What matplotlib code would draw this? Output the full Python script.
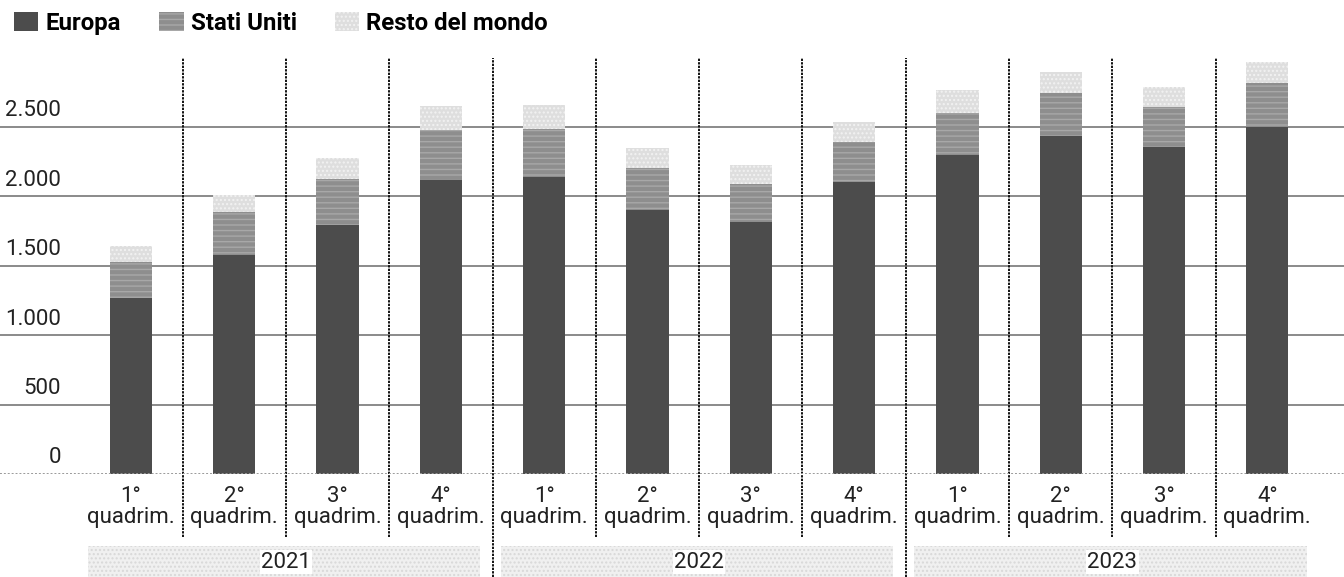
import numpy as np
import matplotlib.pyplot as plt
from matplotlib.patches import Rectangle
import matplotlib.transforms as mtransforms

# dati (quadrimestri 2021-2023)
quadrimestri = ["1°", "2°", "3°", "4°"] * 3
anni = ["2021", "2022", "2023"]
europa = [1265, 1580, 1790, 2120, 2140, 1900, 1815, 2100, 2300, 2430, 2355, 2500]
stati_uniti = [262, 303, 335, 360, 347, 300, 270, 287, 300, 316, 287, 318]
resto_mondo = [113, 124, 151, 167, 168, 149, 139, 144, 161, 149, 145, 151]
yticks = [0, 500, 1000, 1500, 2000, 2500]

plt.rcParams['font.family'] = ['Roboto', 'DejaVu Sans']

fig = plt.figure(figsize=(13.44, 5.77), dpi=100)
ax = fig.add_axes([0, 1 - 474 / 577, 1, (474 - 18) / 577])

x = np.arange(len(europa))
eu = np.array(europa)
us = np.array(stati_uniti)
rm = np.array(resto_mondo)
w = 0.41

b1 = ax.bar(x, eu, w, color='#4c4c4c', zorder=3, label='Europa')
b2 = ax.bar(x, us, w, bottom=eu, color='#8e8e8e', zorder=3, label='Stati Uniti',
            hatch='---', edgecolor='#a8a8a8', linewidth=0)
b3 = ax.bar(x, rm, w, bottom=eu + us, color='#dedede', zorder=3, label='Resto del mondo',
            hatch='....', edgecolor='#f2f2f2', linewidth=0)

ax.set_xlim(-131 / 103.3, (1344 - 131) / 103.3)
ax.set_ylim(0, 456 / 0.1389)

# griglia orizzontale
for v in yticks[1:]:
    ax.axhline(v, color='#8a8a8a', lw=1.4, zorder=1)
ax.axhline(0, color='#9a9a9a', lw=1.4, ls=(0, (1, 1)), zorder=4)

# etichette asse y sopra le linee
for v in yticks:
    lab = f"{v:,}".replace(",", ".")
    ax.annotate(lab, xy=(61, v), xycoords=('figure pixels', 'data'),
                xytext=(0, 4), textcoords='offset points',
                ha='right', va='bottom', fontsize=16, color='#222222')

# separatori verticali
top = (474 - 58) / 456
for i in range(len(x) - 1):
    year_sep = (i + 1) % 4 == 0
    ymin = -0.226 if year_sep else -0.138
    ax.axvline(i + 0.5, ymin=ymin, ymax=top, color='#111111', lw=1.4,
               ls=(0, (1.2, 0.6)), clip_on=False, zorder=2)

ax.set_xticks(x)
ax.set_xticklabels([q + "\nquadrim." for q in quadrimestri], fontsize=16, color='#222222',
                   linespacing=0.95)
ax.tick_params(axis='x', length=0, pad=9)
ax.set_yticks([])
for s in ax.spines.values():
    s.set_visible(False)

# fasce degli anni
trans = mtransforms.blended_transform_factory(ax.transData, fig.transFigure)
for g, anno in enumerate(anni):
    x0 = g * 4 - 0.42
    ax.add_patch(Rectangle((x0, 0), 3.8, 31 / 577, transform=trans, facecolor='#f0f0f0',
                           hatch='....', edgecolor='#d8d8d8', linewidth=0, clip_on=False))
    ax.text(g * 4 + 1.5, 15 / 577, anno, transform=trans, ha='center', va='center',
            fontsize=16, color='#222222',
            bbox=dict(facecolor='white', edgecolor='none', pad=1))

fig.legend(handles=[b1, b2, b3], loc='upper left', bbox_to_anchor=(0.0, 1.005), ncol=3,
           frameon=False, prop={'weight': 'bold', 'size': 17.3},
           handlelength=1.0, handleheight=0.85, handletextpad=0.3, columnspacing=1.6,
           borderaxespad=0.2)

fig.savefig('out.png', dpi=100)
